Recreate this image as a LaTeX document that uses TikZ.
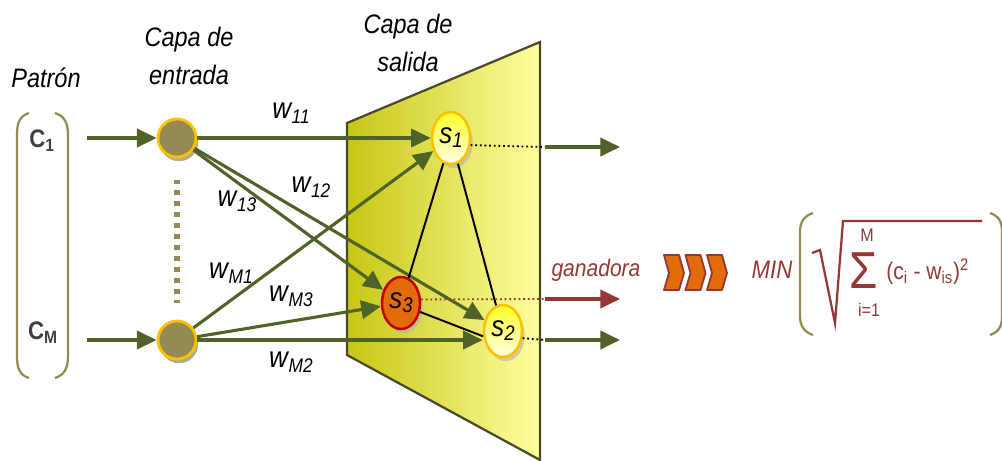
\documentclass[tikz,border=0pt]{standalone}
\usepackage{fontspec}
\setmainfont{Liberation Sans}[FakeStretch=0.88]
\usepackage{tikz}
\usetikzlibrary{
	shapes.geometric,
	arrows.meta,
	positioning,
	shadows
}

\definecolor{olivegreen}{HTML}{4F6228}
\definecolor{khaki}{HTML}{948A54}
\definecolor{gold}{HTML}{FFC000}
\definecolor{darkred}{HTML}{953735}
\definecolor{orangefill}{HTML}{E36C0A}
\definecolor{rededge}{HTML}{C00000}
\definecolor{planeleft}{HTML}{C6C614}
\definecolor{planeright}{HTML}{FFFFA0}
\definecolor{planeedge}{HTML}{4A4A2A}

\newcommand{\sz}[1]{\fontsize{#1}{#1}\selectfont}
\newcommand{\wlab}[1]{w\kern.5pt\raisebox{-.3ex}{\sz{14}#1}}
\newcommand{\slab}[1]{s\raisebox{-.25ex}{\sz{15}#1}}

\begin{document}
\begin{tikzpicture}[x=0.025cm, y=-0.025cm,
				title/.style={
					font={\fontsize{19}{27}\selectfont\itshape},
					inner sep=0pt, align=center
				},
				wlabel/.style={font=\sz{21}\itshape, inner sep=0pt},
				clabel/.style={font=\sz{18}\bfseries, text=darkgray, inner sep=0pt},
				redtext/.style={font=\sz{17}\itshape, text=darkred, inner sep=0pt},
				innode/.style={
					circle, draw=gold, line width=2pt, fill=khaki,
					minimum size=0.95cm, inner sep=0pt,
					drop shadow={shadow xshift=1.5pt, shadow yshift=-3pt, fill=khaki!60!gray, opacity=0.7}
				},
				outbase/.style={
					ellipse, line width=1.8pt,
					minimum width=0.95cm, minimum height=1.3cm, inner sep=0pt,
					font=\sz{21}\itshape,
					drop shadow={shadow xshift=2pt, shadow yshift=-3pt, fill=gray!60, opacity=0.6}
				},
				outnode/.style={
					outbase, draw=gold, top color=yellow!85, bottom color=yellow!10
				},
				winnode/.style={
					outbase, draw=rededge, fill=orangefill
				},
				arrow/.style={-{Triangle[length=14pt,width=13pt]}, line width=2.2pt, draw=olivegreen},
				link/.style={black, line width=1.4pt},
				dots/.style={dotted, line width=1.3pt},
				vdots/.style={khaki, line width=4.2pt, dash pattern=on 3.5pt off 4.3pt},
				brack/.style={khaki, line width=1.6pt},
				chev/.style={draw=darkred, line width=1.3pt, fill=orangefill, line join=round},
				]
				\useasboundingbox (0,0) rectangle (1002,461);
				
				%titles
				\node[title] (patron) at (46,78) {Patrón};
				\node[title] (entrada) at (189,56) {Capa de\\entrada};
				\node[title] (salida) at (408,43) {Capa de\\salida};
				
				%pattern
				\node[clabel] (c1) at (42,141) {C\textsubscript{1}};
				\node[clabel] (cM) at (43,333) {C\textsubscript{M}};
				\draw[brack] (29,113) .. controls (20,116) and (17,122) .. (17,135) -- (17,356) .. controls (17,369) and (20,375) .. (29,378);
				\draw[brack] (55,113) .. controls (64,116) and (68,122) .. (68,135) -- (68,356) .. controls (68,369) and (64,375) .. (55,378);
				
				%output plane
				\draw[planeedge, line width=1.6pt, left color=planeleft, right color=planeright]
					(347,123) -- (540,42) -- (540,460) -- (347,355) -- cycle;
				
				%input layer
				\node[innode] (in1) at (177,138) {};
				\node[innode] (inM) at (177,340) {};
				\draw[vdots] ([yshift=-15pt]in1.south) -- ([yshift=12pt]inM.north);
				\coordinate (p1) at (87,138);
				\coordinate (pM) at (87,340);
				\draw[arrow] (p1) -- (in1);
				\draw[arrow] (pM) -- (inM);
				
				%output layer
				\node[outnode] (s1) at (451,138) {\slab{1}};
				\node[outnode] (s2) at (503,331) {\slab{2}};
				\node[winnode] (s3) at (401,303) {\slab{3}};
				
				%weights
				\draw[arrow] (in1) -- (s1);
				\draw[arrow] (in1) -- (s2);
				\draw[arrow] (in1) -- (s3);
				\draw[arrow] (inM) -- (s1);
				\draw[arrow] (inM) -- (s3);
				\draw[arrow] (inM) -- (inM -| s2.west);
				\node[wlabel] (w11) at (291,113) {\wlab{11}};
				\node[wlabel] (w12) at (311,187) {\wlab{12}};
				\node[wlabel] (w13) at (237,201) {\wlab{13}};
				\node[wlabel] (wM1) at (231,273) {\wlab{M1}};
				\node[wlabel] (wM3) at (291,296) {\wlab{M3}};
				\node[wlabel] (wM2) at (291,362) {\wlab{M2}};
				
				%lateral links
				\draw[link] (s1) -- (s3);
				\draw[link] (s1) -- (s2);
				\draw[link] (s3.-25) -- (s2.195);
				
				%outputs
				\coordinate (o1) at (545,147);
				\coordinate (o3) at (545,299);
				\coordinate (o2) at (545,340);
				\coordinate (e1) at (620,147);
				\coordinate (e3) at (620,299);
				\coordinate (e2) at (620,340);
				\draw[dots] (s1.-20) -- (o1);
				\draw[dots, darkred] (s3.10) -- (o3);
				\draw[dots] (s2.-20) -- (o2);
				\draw[arrow] (o1) -- (e1);
				\draw[arrow, draw=darkred] (o3) -- (e3);
				\draw[arrow] (o2) -- (e2);
				\node[redtext] (gan) at (596,270) {ganadora};
				
				%winner rule
				\foreach \x in {664,685.5,707}
					\draw[chev] (\x,255) -- ++(15,0) -- ++(5,18) -- ++(-5,17) -- ++(-15,0) -- ++(5,-17) -- cycle;
				\node[redtext, font=\sz{18}\itshape] (min) at (772,270) {MIN};
				\draw[brack] (813,213) .. controls (804,216) and (800,222) .. (800,232) -- (800,316) .. controls (800,326) and (804,332) .. (813,335);
				\draw[brack] (990,213) .. controls (999,216) and (1002,222) .. (1002,232) -- (1002,316) .. controls (1002,326) and (999,332) .. (990,335);
				\draw[darkred, line width=1.6pt] (812,253) -- (820,250) -- (835,323) -- (843,221) -- (982,221);
				\node[text=darkred, font=\sz{37}, inner sep=0pt] (sum) at (864,271) {Σ};
				\node[text=darkred, font=\sz{13}, inner sep=0pt] (upper) at (867,235) {M};
				\node[text=darkred, font=\sz{13}, inner sep=0pt] (lower) at (869,310) {i=1};
				\node[text=darkred, font=\sz{17}, inner sep=0pt, anchor=west] (term) at (886,272) {(c\textsubscript{i} - w\textsubscript{is})\textsuperscript{2}};
			\end{tikzpicture}
\end{document}
